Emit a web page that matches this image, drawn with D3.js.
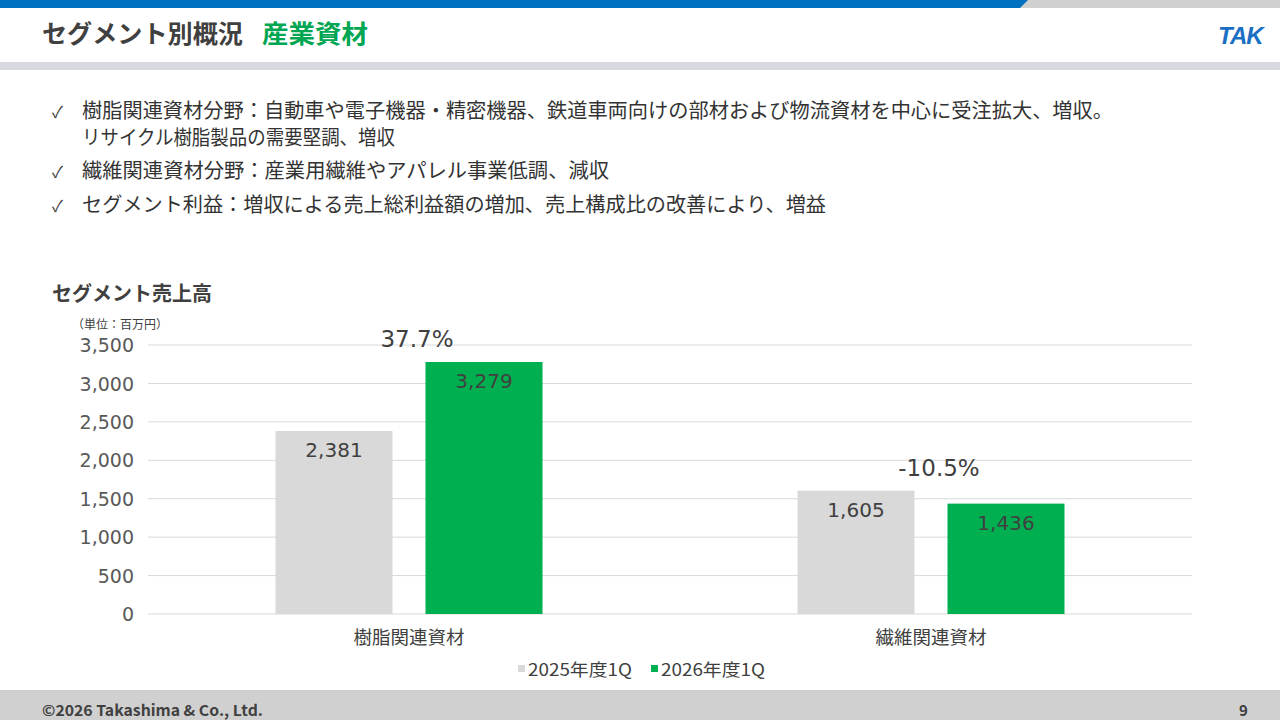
<!DOCTYPE html>
<html><head><meta charset="utf-8">
<script src="https://cdn.jsdelivr.net/npm/d3@7"></script>
<style>
html,body{margin:0;padding:0;background:#fff;}
svg{display:block;font-family:"Noto Sans CJK JP","Noto Sans",sans-serif;}
</style></head>
<body><svg id="c" width="1280" height="720"></svg>
<script>
const categories = ["樹脂関連資材", "繊維関連資材"];
const seriesNames = ["2025年度1Q", "2026年度1Q"];
const values2025 = [2381, 1605];
const values2026 = [3279, 1436];
const changeLabels = ["37.7%", "-10.5%"];
const yTicks = [0, 500, 1000, 1500, 2000, 2500, 3000, 3500];
const bullets = [
  ["樹脂関連資材分野：自動車や電子機器・精密機器、鉄道車両向けの部材および物流資材を中心に受注拡大、増収。", "リサイクル樹脂製品の需要堅調、増収"],
  ["繊維関連資材分野：産業用繊維やアパレル事業低調、減収"],
  ["セグメント利益：増収による売上総利益額の増加、売上構成比の改善により、増益"]
];
const colors = ["#D9D9D9", "#00B050"];
const numFont = "DejaVu Sans, Open Sans, sans-serif";

const svg = d3.select("#c");
// header
svg.append("rect").attr("x",0).attr("y",0).attr("width",1280).attr("height",8).attr("fill","#D0D0D0");
svg.append("path").attr("d","M0,0 L1028,0 L1020,8 L0,8 Z").attr("fill","#0070C0");
svg.append("rect").attr("x",0).attr("y",62).attr("width",1280).attr("height",8).attr("fill","#D6DAE0");
svg.append("text").attr("x",42).attr("y",43).attr("font-size",25).attr("font-weight",700).attr("fill","#404040")
  .attr("textLength",201).attr("lengthAdjust","spacingAndGlyphs").text("セグメント別概況");
svg.append("text").attr("x",262).attr("y",43).attr("font-size",25).attr("font-weight",700).attr("fill","#00A651")
  .attr("textLength",106).attr("lengthAdjust","spacingAndGlyphs").text("産業資材");
svg.append("text").attr("x",1218).attr("y",44).attr("font-size",24).attr("font-weight",700).attr("font-style","italic")
  .attr("font-family","Liberation Sans").attr("fill","#1A6FC4").attr("letter-spacing",-1).text("TAK");

// bullets
const bl = [[118,145],[178],[212]];
const bw = [[1031,313],[527],[744]];
bullets.forEach((b,i)=>{
  svg.append("text").attr("x",52).attr("y",bl[i][0]).attr("font-size",16).attr("fill","#404040").text("✓");
  b.forEach((line,j)=>{
    svg.append("text").attr("x",82).attr("y",bl[i][j]).attr("font-size",20).attr("fill","#333")
      .attr("textLength",bw[i][j]).attr("lengthAdjust","spacingAndGlyphs").text(line);
  });
});

// chart titles
svg.append("text").attr("x",52).attr("y",301).attr("font-size",20).attr("font-weight",700).attr("fill","#404040").text("セグメント売上高");
svg.append("text").attr("x",72).attr("y",329).attr("font-size",12).attr("fill","#404040").text("（単位：百万円）");

const x0 = d3.scaleBand().domain(categories).range([148,1192]).paddingInner(0).paddingOuter(0);
const y = d3.scaleLinear().domain([0,3500]).range([614,345]);

// gridlines
svg.append("g").selectAll("line").data(yTicks).join("line")
  .attr("x1",148).attr("x2",1192).attr("y1",d=>y(d)).attr("y2",d=>y(d))
  .attr("stroke","#D9D9D9").attr("stroke-width",1);
// y axis labels
const yAxis = d3.axisLeft(y).tickValues(yTicks).tickFormat(d3.format(",")).tickSize(0).tickPadding(14);
const ga = svg.append("g").attr("transform","translate(148,0)").call(yAxis);
ga.select(".domain").remove();
ga.selectAll("text").attr("font-size",19).attr("fill","#595959").attr("font-family",numFont).attr("dy","0.35em");

const barW = 117, gap = 33;
const xs = [ -gap/2-barW, gap/2 ];
const data = categories.map((c,i)=>({c, vals:[values2025[i], values2026[i]], ch: changeLabels[i]}));
const g = svg.append("g");
data.forEach(d=>{
  const cx = x0(d.c) + x0.bandwidth()/2;
  d.vals.forEach((v,k)=>{
    g.append("rect").attr("x",cx+xs[k]).attr("y",y(v)).attr("width",barW).attr("height",y(0)-y(v)).attr("fill",colors[k]);
    g.append("text").attr("x",cx+xs[k]+barW/2).attr("y",y(v)+26).attr("text-anchor","middle")
      .attr("font-size",20).attr("fill","#404040").attr("font-family",numFont)
      .text(d3.format(",")(v));
  });
  const top = Math.max(...d.vals);
  g.append("text").attr("x",cx+8).attr("y",y(top)-15).attr("text-anchor","middle")
    .attr("font-size",23).attr("fill","#404040").attr("font-family",numFont).text(d.ch);
  g.append("text").attr("x",cx).attr("y",644).attr("text-anchor","middle").attr("font-size",18.5).attr("fill","#404040").text(d.c);
});
// legend
const lg = svg.append("g");
const lx = [518, 651];
seriesNames.forEach((s,k)=>{
  lg.append("rect").attr("x",lx[k]).attr("y",665).attr("width",7).attr("height",7).attr("fill",colors[k]);
  lg.append("text").attr("x",lx[k]+10).attr("y",676).attr("font-size",17).attr("fill","#404040")
    .attr("textLength",104).attr("lengthAdjust","spacingAndGlyphs").text(s);
});

// footer
svg.append("rect").attr("x",0).attr("y",690).attr("width",1280).attr("height",30).attr("fill","#D0D0D0");
svg.append("text").attr("x",42).attr("y",716).attr("font-size",15).attr("font-weight",700).attr("fill","#404040")
  .attr("textLength",221).attr("lengthAdjust","spacingAndGlyphs").text("©2026 Takashima & Co., Ltd.");
svg.append("text").attr("x",1239).attr("y",716).attr("font-size",15).attr("font-weight",700).attr("fill","#404040").text("9");
</script></body></html>
